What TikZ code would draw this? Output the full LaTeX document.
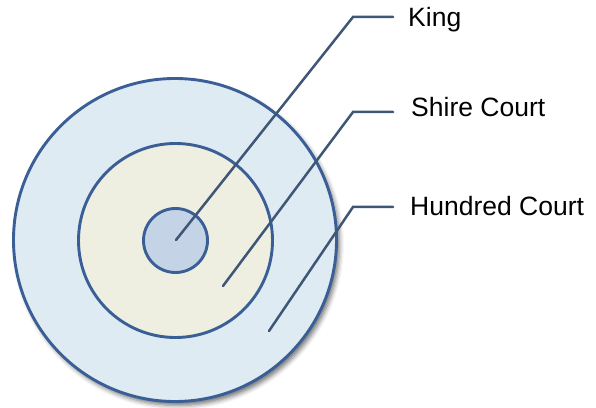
\documentclass[tikz,border=0pt]{standalone}
\usepackage{fontspec}
\setmainfont{Liberation Sans}
\usetikzlibrary{shadows.blur}
\definecolor{ringline}{HTML}{3A5E96}
\definecolor{leadline}{HTML}{3F5677}
\definecolor{outerfill}{HTML}{DFEBF2}
\definecolor{midfill}{HTML}{EEEFE1}
\definecolor{innerfill}{HTML}{C5D3E6}
\begin{document}
\begin{tikzpicture}[x=1pt, y=1pt,
  ring/.style={circle, draw=ringline, line width=2.9pt, inner sep=0pt},
  lead/.style={draw=leadline, line width=2.5pt, line cap=round},
  tag/.style={anchor=west, inner xsep=15pt, inner ysep=0pt, text height=18.5pt, text depth=0pt,
    font=\fontsize{26.5}{30}\selectfont}
]
  \useasboundingbox (0,0) rectangle (596,407);
  \node[ring, fill=outerfill, minimum size=323pt,
    blur shadow={shadow xshift=3pt, shadow yshift=-4pt, shadow blur radius=4.5pt, shadow opacity=55}]
    (hundredring) at (175,167) {};
  \node[ring, fill=midfill, minimum size=194pt] (shirering) at (175.5,166.5) {};
  \node[ring, fill=innerfill, minimum size=64pt] (kingring) at (175.5,166.5) {};

  \coordinate (kingdot) at (176,167);
  \coordinate (shiredot) at (223,121);
  \coordinate (hundreddot) at (269,76);
  \coordinate (kingknee) at (353,390);
  \coordinate (shireknee) at (353,295);
  \coordinate (hundredknee) at (353,200);

  \node[tag] (king) at (393,390) {King};
  \node[tag] (shire) at (396,300) {Shire Court};
  \node[tag] (hundred) at (395,201) {Hundred Court};

  \draw[lead] (kingdot) -- (kingknee) -- (kingknee -| king.west);
  \draw[lead] (shiredot) -- (shireknee) -- ([xshift=-3pt]shireknee -| shire.west);
  \draw[lead] (hundreddot) -- (hundredknee) -- ([xshift=-2pt]hundredknee -| hundred.west);
\end{tikzpicture}
\end{document}
